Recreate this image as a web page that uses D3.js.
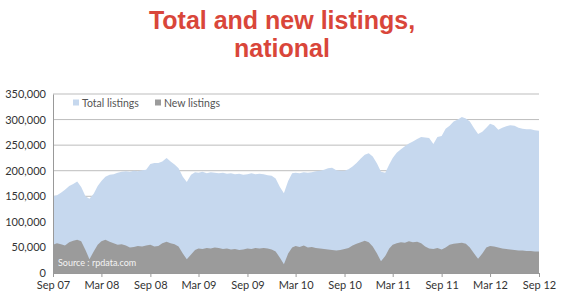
<!DOCTYPE html>
<html>
<head>
	<meta charset="utf-8">
	<title>Total and new listings, national</title>
	<script src="https://cdn.jsdelivr.net/npm/d3@7"></script>
	<style>
		body { margin: 0; background: #fff; }
		text { font-family: Lato, "Liberation Sans", sans-serif; }
	</style>
</head>
<body>
	<svg width="561" height="296"></svg>

	<script>
		// half-monthly readings, Sep 2007 to Sep 2012 (1st and 16th of each month)
		var startDate = '2007-09-01';

		var totalListings = [
			150000, 152000, 157000, 163000, 170000, 174000, 179000, 168000, 150000, 145000,
			155000, 170000, 180000, 188000, 192000, 193000, 196000, 198000, 199000, 198000,
			200000, 199000, 201000, 202000, 213000, 215000, 215000, 218000, 225000, 218000,
			212000, 205000, 188000, 178000, 192000, 197000, 196000, 198000, 195000, 197000,
			196000, 195000, 196000, 194000, 195000, 193000, 194000, 192000, 193000, 195000,
			193000, 194000, 193000, 191000, 190000, 185000, 168000, 156000, 180000, 195000,
			196000, 195000, 197000, 196000, 197000, 199000, 200000, 202000, 205000, 206000,
			201000, 200000, 200000, 203000, 208000, 215000, 224000, 231000, 234000, 228000,
			214000, 198000, 196000, 212000, 225000, 235000, 242000, 248000, 253000, 257000,
			262000, 266000, 265000, 264000, 252000, 266000, 268000, 282000, 288000, 296000,
			300000, 305000, 302000, 296000, 283000, 272000, 276000, 284000, 292000, 289000,
			280000, 284000, 287000, 289000, 288000, 284000, 282000, 281000, 281000, 279000,
			278000
		];

		var newListings = [
			55000, 58000, 56000, 54000, 60000, 63000, 65000, 62000, 45000, 27000,
			42000, 55000, 62000, 65000, 61000, 58000, 55000, 56000, 54000, 50000,
			51000, 53000, 52000, 54000, 55000, 52000, 53000, 58000, 61000, 58000,
			56000, 52000, 38000, 27000, 36000, 45000, 48000, 47000, 49000, 48000,
			50000, 49000, 47000, 48000, 46000, 47000, 45000, 46000, 48000, 47000,
			49000, 48000, 49000, 48000, 46000, 42000, 30000, 17000, 38000, 50000,
			53000, 51000, 54000, 50000, 51000, 49000, 48000, 47000, 46000, 45000,
			44000, 45000, 47000, 49000, 54000, 57000, 60000, 63000, 60000, 52000,
			38000, 23000, 33000, 48000, 55000, 58000, 60000, 59000, 62000, 60000,
			61000, 58000, 52000, 48000, 47000, 49000, 46000, 50000, 55000, 57000,
			58000, 59000, 57000, 50000, 38000, 28000, 38000, 50000, 53000, 52000,
			50000, 48000, 47000, 46000, 45000, 44000, 44000, 43000, 43000, 42000,
			42000
		];

		var xTickLabels = ['Sep 07', 'Mar 08', 'Sep 08', 'Mar 09', 'Sep 09', 'Mar 10',
			'Sep 10', 'Mar 11', 'Sep 11', 'Mar 12', 'Sep 12'];
		var yTicks = [0, 50000, 100000, 150000, 200000, 250000, 300000, 350000];
		var seriesNames = ['Total listings', 'New listings'];

		var colors = ['#c6d8ee', '#9b9b9b'];

		var parse = d3.timeParse('%Y-%m-%d');
		var start = parse(startDate);
		var dates = totalListings.map(function(d, i) {
			var m = d3.timeMonth.offset(start, Math.floor(i / 2));
			return i % 2 ? d3.timeDay.offset(m, 15) : m;
		});
		var tickDates = xTickLabels.map(d3.timeParse('%b %y'));

		var data = dates.map(function(d, i) {
			return { date: d, total: totalListings[i], fresh: newListings[i] };
		});

		var margin = { left: 53, right: 22, top: 94, bottom: 23 };
		var width = 561 - margin.left - margin.right;
		var height = 296 - margin.top - margin.bottom;

		var svg = d3.select('svg');

		// title
		var titleLines = ['Total and new listings,', 'national'];
		svg.selectAll('.title')
			.data(titleLines)
			.enter()
			.append('text')
			.attr('x', 282)
			.attr('y', function(d, i) { return 29 + i * 28; })
			.attr('text-anchor', 'middle')
			.style('font-family', '"Liberation Sans", Arial, sans-serif')
			.style('font-weight', 'bold')
			.style('font-size', '25px')
			.style('fill', '#d9463a')
			.text(function(d) { return d; });

		var g = svg.append('g')
			.attr('transform', 'translate(' + margin.left + ',' + margin.top + ')');

		var x = d3.scaleTime()
			.domain([tickDates[0], tickDates[tickDates.length - 1]])
			.range([0, width]);
		var y = d3.scaleLinear().domain([0, 350000]).range([height, 0]);

		// gridlines
		g.selectAll('.grid')
			.data(yTicks.slice(1))
			.enter()
			.append('line')
			.attr('x1', 0).attr('x2', width)
			.attr('y1', function(d) { return y(d); })
			.attr('y2', function(d) { return y(d); })
			.style('stroke', '#bdbdbd')
			.style('stroke-width', 1);

		var totalArea = d3.area()
			.x(function(d) { return x(d.date); })
			.y0(y(0))
			.y1(function(d) { return y(d.total); });

		var newArea = d3.area()
			.x(function(d) { return x(d.date); })
			.y0(y(0))
			.y1(function(d) { return y(d.fresh); });

		g.append('path').datum(data).attr('d', totalArea).style('fill', colors[0]);
		g.append('path').datum(data).attr('d', newArea).style('fill', colors[1]);

		// axes
		var yAxis = g.append('g')
			.call(d3.axisLeft(y).tickValues(yTicks).tickSize(0).tickPadding(7)
				.tickFormat(d3.format(',')));
		yAxis.select('.domain').style('stroke', '#999');

		var xAxis = g.append('g')
			.attr('transform', 'translate(0,' + height + ')')
			.call(d3.axisBottom(x).tickValues(tickDates).tickSize(4).tickSizeOuter(0)
				.tickPadding(4)
				.tickFormat(function(d, i) { return xTickLabels[i]; }));
		xAxis.select('.domain').style('stroke', '#999');
		xAxis.selectAll('.tick line').style('stroke', '#999');

		svg.selectAll('.tick text')
			.style('font-family', 'Lato, "Liberation Sans", sans-serif')
			.style('font-size', '11px')
			.style('fill', '#333');

		// legend
		var legend = g.selectAll('.legend')
			.data(seriesNames)
			.enter()
			.append('g')
			.attr('transform', function(d, i) { return 'translate(' + (20 + i * 82) + ',9)'; });
		legend.append('rect')
			.attr('x', 0).attr('y', -3.5)
			.attr('width', 6).attr('height', 6)
			.style('fill', function(d, i) { return colors[i]; });
		legend.append('text')
			.attr('x', 9).attr('y', 3.5)
			.style('font-size', '10.5px')
			.style('fill', '#555')
			.text(function(d) { return d; });

		// source note
		g.append('text')
			.attr('x', 5).attr('y', height - 7)
			.style('font-size', '9px')
			.style('fill', '#f4f4f4')
			.text('Source : rpdata.com');
	</script>
</body>
</html>
